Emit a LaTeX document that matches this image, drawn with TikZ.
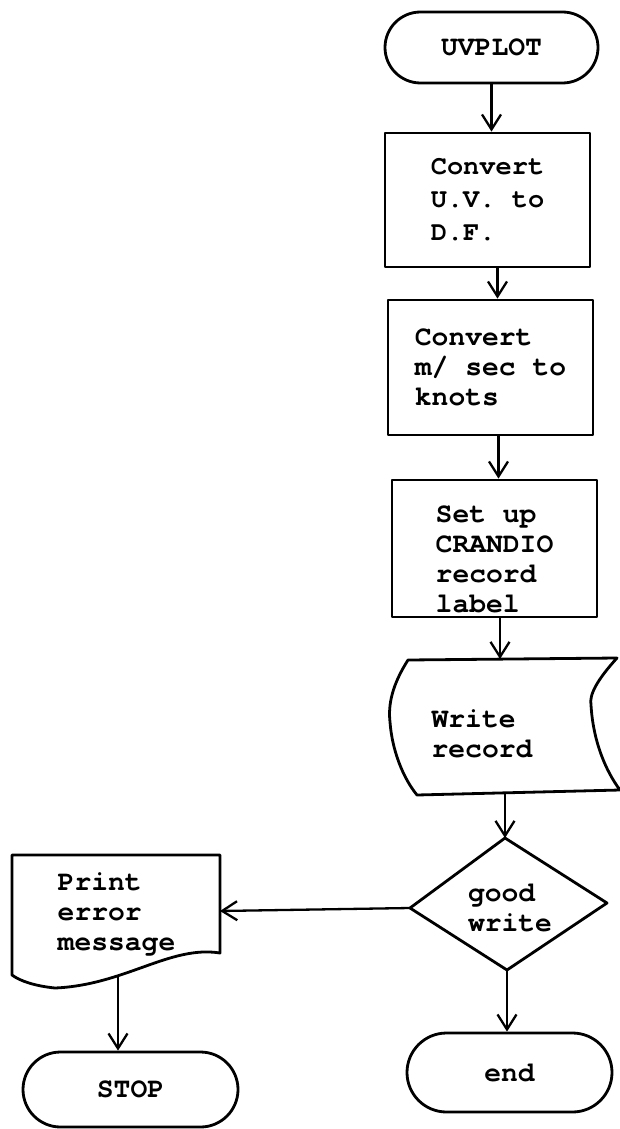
\documentclass[tikz,border=0pt]{standalone}
\usepackage{fontspec}
\newfontfamily\typewriter{texgyrecursor-bold.otf}
\usetikzlibrary{arrows.meta,shapes.misc}
\begin{document}
\begin{tikzpicture}[x=1pt,y=-1pt,
  outline/.style={line width=2.8pt, line join=round},
  label text/.style={font=\typewriter\fontsize{28}{30}\selectfont, align=left, inner sep=0pt},
  wide text/.style={font=\typewriter\fontsize{27}{33}\selectfont},
  terminal/.style={outline, draw, rounded rectangle, label text, align=center},
  procbox/.style={outline, draw, rectangle, label text},
  arr/.style={line width=2.3pt, -{Straight Barb[length=15pt,width=19pt,line width=2.3pt]}},
]
\useasboundingbox (0,0) rectangle (620,1129);

% main column
\node[terminal, minimum width=213pt, minimum height=71pt] (uvplot) at (491.5,47.5) {UVPLOT};
\node[procbox, wide text, minimum width=205pt, minimum height=134pt] (conv1) at (487.5,200) {Convert\\U.V. to\\D.F.};
\node[procbox, minimum width=205pt, minimum height=135pt] (conv2) at (490.5,367.5) {Convert\\m/ sec to\\knots};
\node[procbox, minimum width=205pt, minimum height=137pt] (setup) at (494.5,548.5) {\rule{0pt}{38pt}Set up\\CRANDIO\\record\\label};

% output (write record) symbol
\node[label text] (write) at (482,734) {Write\\record};
\coordinate (write-n) at (500,659);
\coordinate (write-s) at (505,794);
\draw[outline] (408,660) -- (617,658)
  .. controls (597,680) and (589,695) .. (591,705)
  .. controls (593,740) and (605,770) .. (620,790)
  -- (417,795)
  .. controls (403,778) and (392,750) .. (390,722)
  .. controls (388,705) and (392,685) .. (408,660) -- cycle;

% decision
\node[label text] (test) at (510,908) {good\\write};
\coordinate (test-n) at (505,838);
\coordinate (test-e) at (607,903);
\coordinate (test-s) at (507,970);
\coordinate (test-w) at (410,908);
\draw[outline] (test-n) -- (test-e) -- (test-s) -- (test-w) -- cycle;

% printed document
\node[label text] (print) at (116.5,914) {Print\\error\\message};
\coordinate (print-e) at (220,911);
\coordinate (print-s) at (118,976);
\draw[outline] (12,975) -- (12,855) -- (220,855) -- (220,953)
  .. controls (170,945) and (125,985) .. (55,988)
  .. controls (35,986) and (20,981) .. (12,975) -- cycle;

% terminals
\node[terminal, minimum width=215pt, minimum height=75pt] (stop) at (130.5,1089.5) {STOP};
\node[terminal, minimum width=205pt, minimum height=79pt] (finish) at (509.5,1072.5) {end};

% flow lines
\draw[arr] (uvplot.south) -- (uvplot.south |- conv1.north);
\draw[arr] ([xshift=7pt]conv2.north |- conv1.south) -- ([xshift=7pt]conv2.north);
\draw[arr] ([xshift=8pt]conv2.south) -- ([xshift=8pt]conv2.south |- setup.north);
\draw[arr] (setup.south -| write-n) -- (write-n);
\draw[arr] (write-s) -- (test-n);
\draw[arr] (test-w) -- (print-e);
\draw[arr] (print-s) -- (print-s |- stop.north);
\draw[arr] (test-s) -- (test-s |- finish.north);
\end{tikzpicture}
\end{document}
